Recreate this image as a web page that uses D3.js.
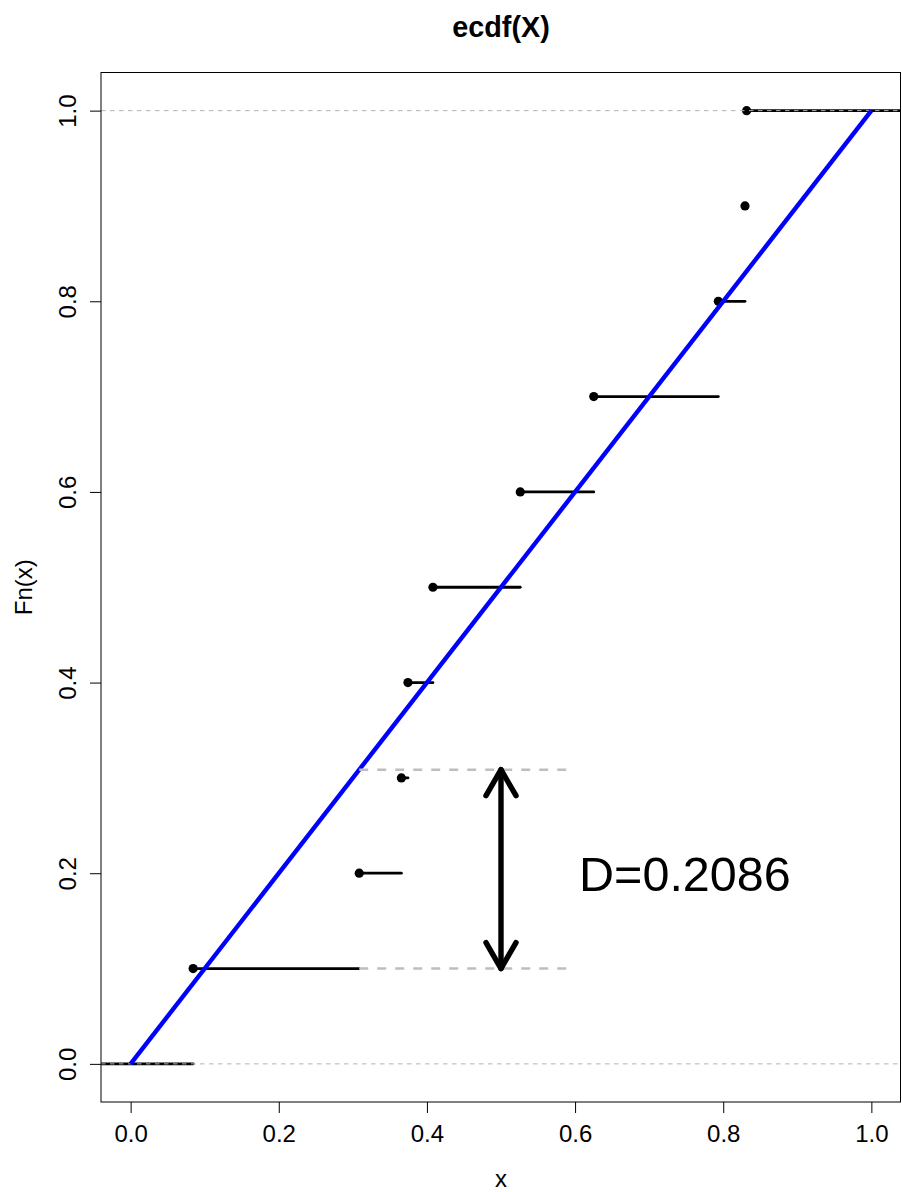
<!DOCTYPE html>
<html>
<head>
<meta charset="utf-8">
<script src="https://cdn.jsdelivr.net/npm/d3@7"></script>
<style>
  html, body { margin: 0; padding: 0; background: #fff; }
  svg { display: block; font-family: "Liberation Sans", Arial, Helvetica, sans-serif; }
</style>
</head>
<body>
<svg id="chart" width="902" height="1192"></svg>
<script>
// ecdf knots (sorted sample) and step heights
const knots = [0.0844, 0.3086, 0.3655, 0.3744, 0.4081, 0.526, 0.6252, 0.7934, 0.8294, 0.8316]
const fnValues = [0.1, 0.2, 0.3, 0.4, 0.5, 0.6, 0.7, 0.8, 0.9, 1.0]
const xTicks = [0, 0.2, 0.4, 0.6, 0.8, 1.0]
const yTicks = [0, 0.2, 0.4, 0.6, 0.8, 1.0]
// reference uniform cdf
const refLine = [[0, 0], [1, 1]]
// KS statistic annotation
const dAt = 0.3086
const dLow = 0.1
const dHigh = 0.3086
const dLineEnd = 0.6
const arrowX = 0.5
const dLabel = 'D=0.2086'
const dLabelPos = [0.6, 0.2]

const plot = { left: 101, right: 901, top: 72.5, bottom: 1102 }
const xDomain = [-0.04, 1.04]
const yDomain = [-0.04, 1.04]

const x = d3.scaleLinear().domain(xDomain).range([plot.left, plot.right])
const y = d3.scaleLinear().domain(yDomain).range([plot.bottom, plot.top])

const svg = d3.select('#chart')

svg.append('defs').append('clipPath').attr('id', 'clip')
  .append('rect')
  .attr('x', plot.left).attr('y', plot.top)
  .attr('width', plot.right - plot.left).attr('height', plot.bottom - plot.top)

const g = svg.append('g').attr('clip-path', 'url(#clip)')

// horizontal ecdf steps
const steps = d3.range(-1, knots.length).map(i => ({
  x0: i < 0 ? xDomain[0] : knots[i],
  x1: i + 1 < knots.length ? knots[i + 1] : xDomain[1],
  v: i < 0 ? 0 : fnValues[i]
}))
g.selectAll('line.step').data(steps).join('line')
  .attr('class', 'step')
  .attr('x1', d => x(d.x0)).attr('x2', d => x(d.x1))
  .attr('y1', d => y(d.v)).attr('y2', d => y(d.v))
  .attr('stroke', '#000').attr('stroke-width', 2.8).attr('stroke-linecap', 'round')

g.selectAll('circle.knot').data(knots).join('circle')
  .attr('class', 'knot')
  .attr('cx', d => x(d)).attr('cy', (d, i) => y(fnValues[i]))
  .attr('r', 4.6).attr('fill', '#000')

// gray lines at 0 and 1
g.selectAll('line.h01').data([0, 1]).join('line')
  .attr('class', 'h01')
  .attr('x1', plot.left).attr('x2', plot.right)
  .attr('y1', d => y(d)).attr('y2', d => y(d))
  .attr('stroke', '#b3b3b3').attr('stroke-width', 1).attr('stroke-dasharray', '4.5,4.5')

// uniform cdf
g.append('path')
  .attr('d', d3.line().x(d => x(d[0])).y(d => y(d[1]))(refLine))
  .attr('fill', 'none').attr('stroke', '#0000ff').attr('stroke-width', 4.4)

// D guide lines
g.selectAll('line.dguide').data([dLow, dHigh]).join('line')
  .attr('class', 'dguide')
  .attr('x1', x(dAt)).attr('x2', x(dLineEnd))
  .attr('y1', d => y(d)).attr('y2', d => y(d))
  .attr('stroke', '#bebebe').attr('stroke-width', 2.6).attr('stroke-dasharray', '9,9')

// double headed arrow
const ax = x(arrowX), ay0 = y(dLow), ay1 = y(dHigh)
const headLen = 30, headAng = Math.PI / 6
const hx = headLen * Math.sin(headAng), hy = headLen * Math.cos(headAng)
const arrow = g.append('g')
  .attr('fill', 'none').attr('stroke', '#000').attr('stroke-width', 5.4)
  .attr('stroke-linecap', 'round').attr('stroke-linejoin', 'round')
arrow.append('line').attr('x1', ax).attr('x2', ax).attr('y1', ay0).attr('y2', ay1)
arrow.append('path').attr('d', `M${ax - hx},${ay1 + hy}L${ax},${ay1}L${ax + hx},${ay1 + hy}`)
arrow.append('path').attr('d', `M${ax - hx},${ay0 - hy}L${ax},${ay0}L${ax + hx},${ay0 - hy}`)

svg.append('text')
  .attr('x', x(dLabelPos[0])).attr('y', y(dLabelPos[1]))
  .attr('dx', 4).attr('dy', '0.37em')
  .attr('font-size', 48.5).attr('fill', '#000')
  .text(dLabel)

// frame
svg.append('rect')
  .attr('x', plot.left).attr('y', plot.top)
  .attr('width', plot.right - plot.left - 0.5).attr('height', plot.bottom - plot.top)
  .attr('fill', 'none').attr('stroke', '#000').attr('stroke-width', 1)

// axes (R style: ticks outward, labels below / rotated)
const xAxis = svg.append('g').attr('transform', `translate(0,${plot.bottom})`)
  .call(d3.axisBottom(x).tickValues(xTicks).tickFormat(d3.format('.1f')).tickSize(11).tickPadding(12))
xAxis.select('.domain').remove()
xAxis.selectAll('text').attr('font-size', 24).attr('font-family', null).attr('fill', '#000')
xAxis.selectAll('line').attr('stroke', '#000')

const yAxis = svg.append('g').attr('transform', `translate(${plot.left},0)`)
  .call(d3.axisLeft(y).tickValues(yTicks).tickFormat(d3.format('.1f')).tickSize(11))
yAxis.select('.domain').remove()
yAxis.selectAll('line').attr('stroke', '#000')
yAxis.selectAll('text')
  .attr('font-size', 24).attr('font-family', null).attr('fill', '#000')
  .attr('x', null).attr('dy', null)
  .attr('text-anchor', 'middle')
  .attr('transform', 'translate(-25,0) rotate(-90)')

svg.append('text')
  .attr('x', (plot.left + plot.right) / 2).attr('y', 37)
  .attr('text-anchor', 'middle').attr('font-size', 28.8).attr('font-weight', 'bold')
  .text('ecdf(X)')

svg.append('text')
  .attr('x', (plot.left + plot.right) / 2).attr('y', 1187)
  .attr('text-anchor', 'middle').attr('font-size', 24)
  .text('x')

svg.append('text')
  .attr('transform', `translate(32,${(plot.top + plot.bottom) / 2}) rotate(-90)`)
  .attr('text-anchor', 'middle').attr('font-size', 24)
  .text('Fn(x)')
</script>
</body>
</html>
